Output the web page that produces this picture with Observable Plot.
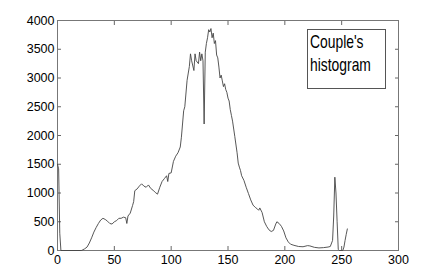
<!DOCTYPE html>
<html><head><meta charset="utf-8">
<script src="https://cdn.jsdelivr.net/npm/d3@7"></script>
<script src="https://cdn.jsdelivr.net/npm/@observablehq/plot@0.6"></script>
<style>
body{margin:0;background:#fff;}
#wrap{position:relative;width:438px;height:280px;}
#legend{position:absolute;left:307px;top:29px;width:79px;height:60px;border:1px solid #555;background:#fff;
font-family:"Liberation Sans",Arial,sans-serif;font-size:19px;line-height:23px;padding:0 0 0 2px;color:#000;box-sizing:border-box;}
#legend span{display:inline-block;transform:scaleX(0.73);transform-origin:left center;white-space:nowrap;}
</style></head>
<body><div id="wrap"><div id="legend"><span>Couple's</span><br><span>histogram</span></div></div>
<script>
const legendText = "Couple's histogram";
const xTicks = [0, 50, 100, 150, 200, 250, 300];
const yTicks = [0, 500, 1000, 1500, 2000, 2500, 3000, 3500, 4000];
const bins = [0,1,2,3,21,22,24,26,28,30,32,34,36,38,40,42,44,46,48,50,52,54,56,58,60,61,62,64,66,67,68,70,72,74,76,78,80,82,84,86,88,90,92,94,96,97,98,100,102,104,106,108,109,111,112,114,116,117,118,120,121,122,124,125,126,127,128,129,130,131,132,133,134,135,136,137,138,139,140,141,142,143,144,145,146,147,148,149,150,151,152,153,154,156,158,159,160,161,162,164,166,168,170,172,174,176,177,178,180,182,184,186,188,190,192,193,195,197,199,201,203,205,208,212,216,220,222,226,230,234,238,240,242,243,244,245,246,247,248,251,252,253,254,255];
const counts = [1500,1420,300,0,0,10,30,60,130,220,320,400,470,530,560,540,510,470,460,500,520,560,560,580,570,470,600,650,780,850,1040,1070,1120,1160,1120,1100,1140,1080,1050,1010,980,1100,1200,1250,1300,1200,1340,1350,1550,1640,1700,1800,1970,2430,2500,2960,3200,3420,3300,3130,3420,3300,3250,3450,3300,3420,3300,2200,3450,3600,3700,3840,3800,3860,3700,3780,3600,3650,3400,3350,3190,3000,3050,2950,2850,2900,2800,2750,2650,2600,2450,2350,2250,1980,1700,1520,1450,1390,1300,1220,1100,990,880,790,750,720,700,740,660,500,420,360,330,350,460,500,470,420,340,220,150,110,90,70,65,85,80,55,45,50,60,70,175,600,1275,1000,500,20,0,0,60,175,280,375];
const data = bins.map((b, i) => ({bin: b, count: counts[i]}));
const tickStroke = "#666";
const fmt = d3.format("d");
const chart = Plot.plot({
  width: 438, height: 280,
  marginLeft: 57, marginRight: 40, marginTop: 20, marginBottom: 30,
  style: {fontFamily: "'Liberation Sans', Arial, sans-serif", fontSize: "12.5px", color: "#000", background: "#fff"},
  x: {domain: [0, 300]},
  y: {domain: [0, 4000]},
  marks: [
    Plot.axisX({anchor: "bottom", ticks: xTicks, tickSize: -4, tickPadding: 9, tickFormat: fmt, stroke: tickStroke, fill: "#000", label: null}),
    Plot.axisX({anchor: "top", ticks: xTicks, tickSize: -4, tickFormat: () => "", stroke: tickStroke, label: null}),
    Plot.axisY({anchor: "left", ticks: yTicks, tickSize: -4, tickPadding: 7, tickFormat: fmt, stroke: tickStroke, fill: "#000", label: null}),
    Plot.axisY({anchor: "right", ticks: yTicks, tickSize: -4, tickFormat: () => "", stroke: tickStroke, label: null}),
    Plot.frame({stroke: "#777"}),
    Plot.line(data, {x: "bin", y: "count", stroke: "#444", strokeWidth: 0.9})
  ]
});
document.getElementById("wrap").prepend(chart);
</script>
</body></html>
